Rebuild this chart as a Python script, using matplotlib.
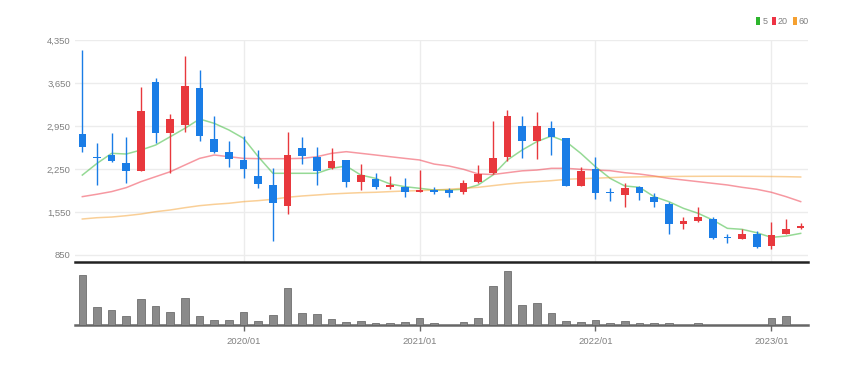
import matplotlib
matplotlib.use("Agg")
import matplotlib.pyplot as plt
from matplotlib.patches import Patch
from matplotlib.ticker import FixedLocator, FuncFormatter

plt.rcParams['font.family'] = ['Liberation Sans', 'DejaVu Sans']

# ---- data (monthly candles 2019/02 .. 2023/03) ----
months = [f"{2019 + (m + 1) // 12}/{(m + 1) % 12 + 1:02d}" for m in range(50)]
opens = [2820, 2450, 2485, 2350, 2216, 3672, 2831, 2966, 3563, 2735, 2520, 2397, 2140, 1990, 1650,
         2597, 2440, 2261, 2397, 2033, 2087, 1952, 1962, 1876, 1909, 1900, 1876, 2044, 2190, 2450,
         2950, 2706, 2922, 2750, 1975, 2250, 1880, 1833, 1952, 1800, 1680, 1354, 1408, 1430, 1145,
         1110, 1196, 996, 1191, 1289]
closes = [2613, 2430, 2380, 2215, 3194, 2841, 3064, 3606, 2792, 2530, 2410, 2245, 2000, 1703, 2470,
          2462, 2215, 2385, 2033, 2151, 1962, 1990, 1871, 1903, 1876, 1865, 2017, 2168, 2423, 3118,
          2711, 2955, 2765, 1980, 2223, 1865, 1860, 1941, 1860, 1708, 1354, 1403, 1463, 1131, 1125,
          1191, 979, 1175, 1273, 1322]
highs = [4190, 2668, 2830, 2775, 3590, 3730, 3145, 4095, 3860, 3120, 2705, 2787, 2560, 2270, 2847,
         2776, 2613, 2586, 2400, 2330, 2190, 2136, 2098, 2232, 1962, 1947, 2071, 2314, 3037, 3210,
         3118, 3172, 3031, 2760, 2288, 2450, 1947, 2017, 1980, 1855, 1720, 1474, 1627, 1474, 1196,
         1273, 1240, 1392, 1430, 1365]
lows = [2530, 1990, 2370, 2015, 2210, 2680, 2180, 2860, 2705, 2505, 2290, 2110, 1935, 1085, 1517,
        2330, 1990, 2255, 1952, 1908, 1925, 1925, 1790, 1870, 1844, 1800, 1844, 2017, 2168, 2385,
        2423, 2407, 2478, 1975, 1970, 1762, 1735, 1627, 1746, 1638, 1190, 1273, 1392, 1110, 1044,
        1105, 968, 942, 1185, 1268]
ma5 = [2151, 2341, 2505, 2494, 2559, 2640, 2776, 2912, 3064, 2993, 2885, 2749, 2450, 2180, 2180,
       2180, 2180, 2261, 2299, 2151, 2098, 2006, 1962, 1936, 1908, 1908, 1920, 1990, 2151, 2397,
       2559, 2695, 2787, 2695, 2505, 2288, 2098, 1974, 1952, 1800, 1719, 1610, 1529, 1420, 1284,
       1268, 1213, 1137, 1158, 1202]
ma20 = [1800, 1839, 1882, 1947, 2044, 2125, 2206, 2315, 2423, 2478, 2450, 2423, 2418, 2418, 2418,
        2423, 2450, 2505, 2532, 2505, 2478, 2450, 2423, 2397, 2330, 2299, 2245, 2170, 2160, 2190,
        2220, 2233, 2261, 2261, 2245, 2233, 2223, 2190, 2168, 2136, 2098, 2071, 2044, 2017, 1990,
        1952, 1920, 1871, 1800, 1719]
ma60 = [1436, 1457, 1468, 1490, 1517, 1555, 1583, 1620, 1653, 1675, 1692, 1719, 1735, 1757, 1790,
        1811, 1827, 1844, 1855, 1865, 1871, 1882, 1892, 1898, 1908, 1920, 1936, 1952, 1979, 2006,
        2028, 2044, 2060, 2082, 2093, 2100, 2110, 2118, 2122, 2125, 2128, 2130, 2131, 2132, 2132,
        2131, 2130, 2128, 2125, 2120]
volumes = [500, 183, 150, 90, 257, 190, 133, 267, 90, 50, 50, 127, 40, 100, 367, 117, 107, 57, 33, 40,
           17, 23, 33, 67, 17, 4, 33, 73, 390, 540, 200, 223, 117, 40, 33, 50, 17, 40, 17, 17,
           20, 5, 17, 5, 5, 5, 5, 73, 90, 5]
y_ticks = [850, 1550, 2250, 2950, 3650, 4350]
x_tick_labels = ["2020/01", "2021/01", "2022/01", "2023/01"]
ma_labels = ["5", "20", "60"]

UP = '#e8383d'
DOWN = '#1a7de6'
MA_COLORS = ['#2db52d', '#ee3344', '#f5a030']
TXT = '#808080'

W, H = 865, 366
fig = plt.figure(figsize=(W / 100, H / 100), dpi=100)

def frac(x0, y0, x1, y1):
    return [x0 / W, 1 - y1 / H, (x1 - x0) / W, (y1 - y0) / H]

ax = fig.add_axes(frac(75, 40, 808, 262))
axv = fig.add_axes(frac(75, 264, 808, 325), sharex=ax)

n = len(opens)
xs = list(range(n))
bw = 0.52
for i in xs:
    o, c, h, l = opens[i], closes[i], highs[i], lows[i]
    col = UP if c >= o else DOWN
    ax.vlines(i, l, h, color=col, lw=1.0, zorder=3)
    ht = max(abs(c - o), 14)
    ax.bar(i, ht, bottom=min(o, c), width=bw, color=col, zorder=4, linewidth=0)

for vals, col in zip([ma5, ma20, ma60], MA_COLORS):
    ax.plot(xs, vals, color=col, lw=1.1, alpha=0.5, zorder=2)

ax.set_xlim(-0.5, n - 0.5)
ax.set_ylim(736, 4350)
ax.yaxis.set_major_locator(FixedLocator(y_ticks))
ax.yaxis.set_major_formatter(FuncFormatter(lambda v, p: f"{int(v):,}"))
ax.grid(axis='y', color='#ececec', lw=1)
tick_idx = [months.index(t) for t in x_tick_labels]
for ti in tick_idx:
    ax.axvline(ti, color='#ececec', lw=1, zorder=0)
ax.set_axisbelow(True)
for s in ['top', 'right', 'left']:
    ax.spines[s].set_visible(False)
ax.spines['bottom'].set_color('#222222')
ax.spines['bottom'].set_linewidth(1.8)
ax.tick_params(axis='y', length=0, pad=3, labelsize=6.8, labelcolor=TXT)
ax.tick_params(axis='x', which='both', bottom=False, labelbottom=False)

axv.bar(xs, volumes, width=bw, color='#8a8a8a', edgecolor='#6e6e6e', linewidth=0.6, zorder=3)
axv.set_ylim(0, 610)
axv.set_yticks([])
for s in ['top', 'right', 'left']:
    axv.spines[s].set_visible(False)
axv.spines['bottom'].set_color('#666666')
axv.spines['bottom'].set_linewidth(1.8)
axv.set_xticks(tick_idx)
axv.set_xticklabels(x_tick_labels)
axv.tick_params(axis='x', length=4, width=1, color='#666666', pad=5, labelsize=6.8, labelcolor=TXT)

handles = [Patch(facecolor=c, edgecolor='none') for c in MA_COLORS]
fig.legend(handles, ma_labels, loc='upper right', bbox_to_anchor=(809 / W, 1 - 17 / H), ncol=3,
           frameon=False, fontsize=6.5, handlelength=0.45, handleheight=0.9, handletextpad=0.25,
           columnspacing=0.5, labelcolor=TXT, borderaxespad=0, borderpad=0)

fig.savefig("out.png", dpi=100)
